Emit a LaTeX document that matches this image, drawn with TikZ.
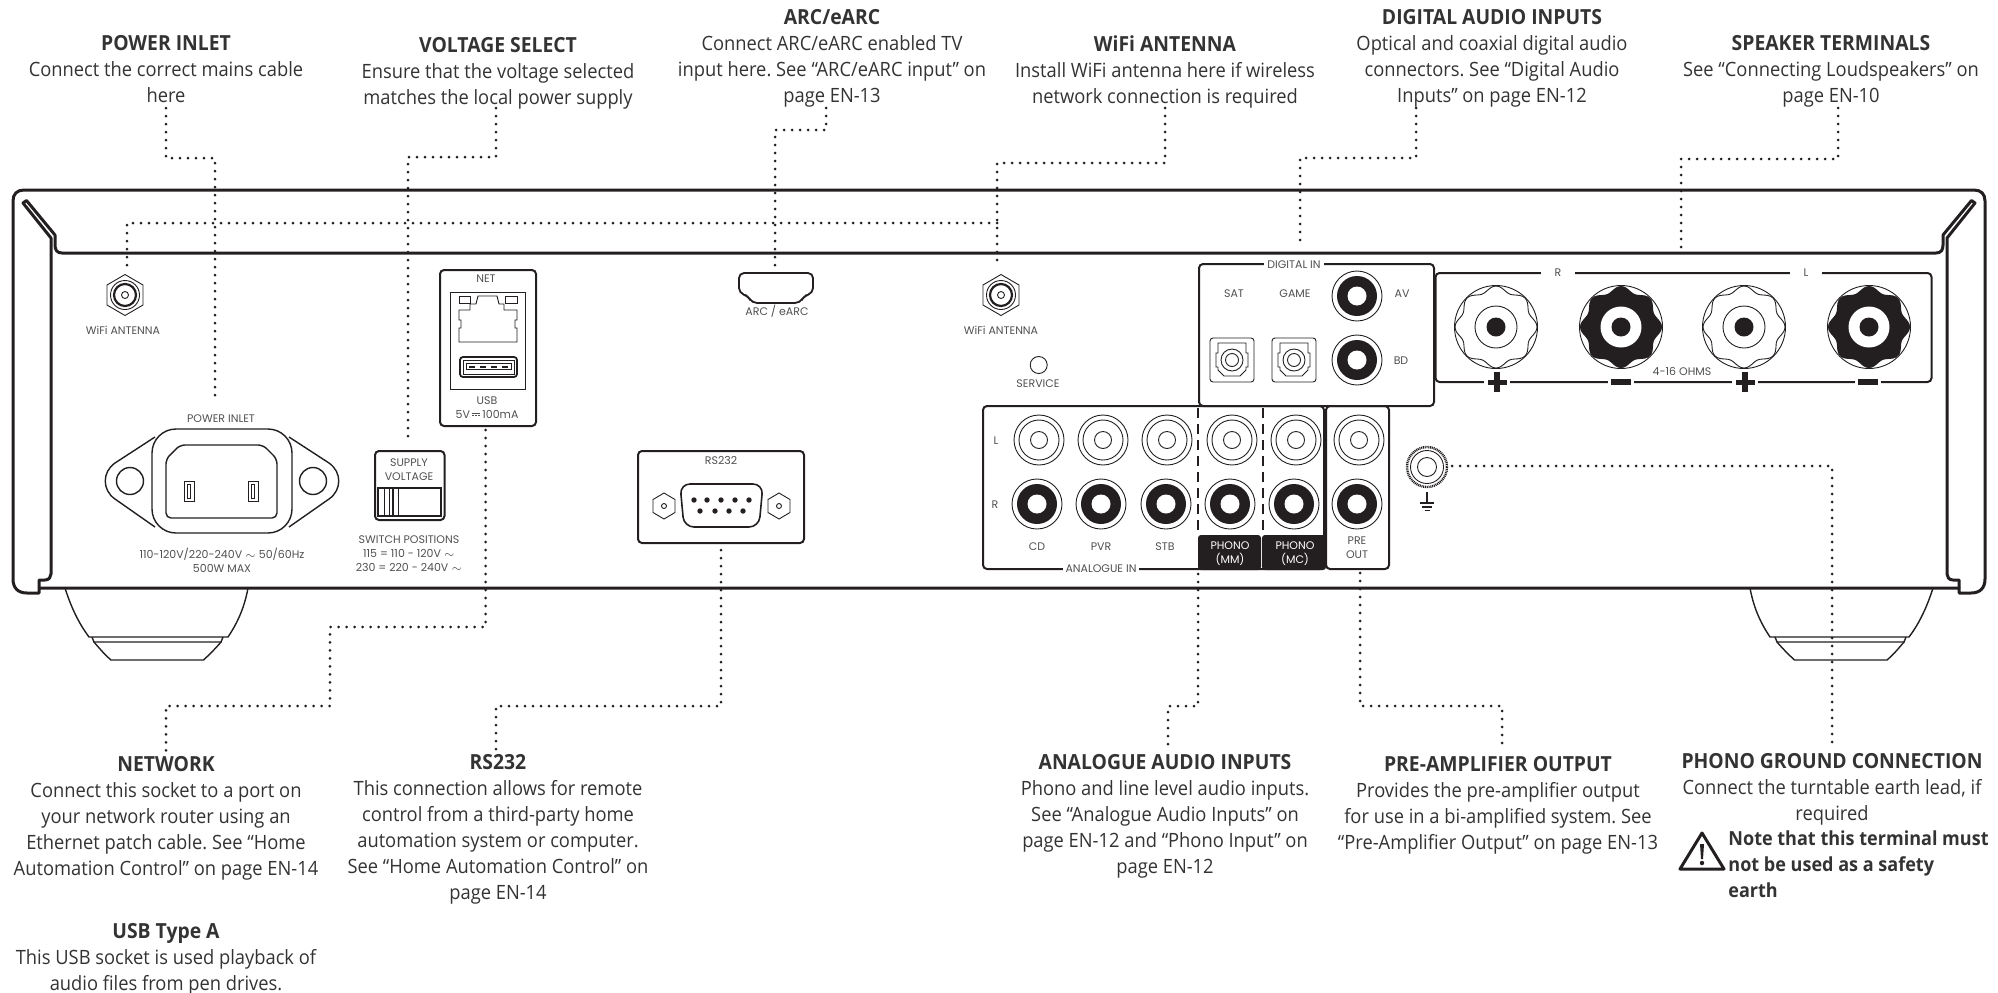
\documentclass[tikz,border=0pt]{standalone}
\usepackage{fontspec}
\setmainfont[FakeStretch=0.93]{Open Sans}
\newfontfamily\plfont{Poppins}
\definecolor{ink}{HTML}{231F20}
\definecolor{plab}{HTML}{505050}
\definecolor{bodyc}{HTML}{333333}
\newcommand\ttl[1]{{\fontsize{10.4}{13}\selectfont\textbf{#1}}}
\newcommand\dcsym{\kern1pt\rlap{\raisebox{2.7pt}{\rule{4.2pt}{.35pt}}}\raisebox{1.5pt}{\rule{1.1pt}{.35pt}\kern.45pt\rule{1.1pt}{.35pt}\kern.45pt\rule{1.1pt}{.35pt}}\kern1pt}
\tikzset{
  chassis/.style={draw=ink,line width=1.5pt,line join=round},
  panel/.style={draw=ink,line width=1pt,rounded corners=2pt},
  fine/.style={draw=ink,line width=0.45pt},
  dots/.style={draw=ink,line width=1.5pt,line cap=round,dash pattern=on 0pt off 4pt},
  block/.style={font=\frenchspacing\fontsize{9.85}{13}\selectfont,align=center,inner sep=0pt,anchor=north,text=bodyc},
  plabel/.style={font=\plfont\fontsize{5.5}{7}\selectfont,text=plab,inner sep=0pt,align=center},
  bgl/.style={plabel,fill=white,inner xsep=1.5pt,inner ysep=1pt},
}
\newcommand\wifi[2]{%
  \draw[fine] (#1,#2-20.5)--(#1+18,#2-10)--(#1+18,#2+10)--(#1,#2+20.5)--(#1-18,#2+10)--(#1-18,#2-10)--cycle;
  \draw[fine] (#1,#2) circle[radius=14.5];
  \draw[draw=ink,line width=1.1pt] (#1,#2) circle[radius=11];
  \draw[fine] (#1,#2) circle[radius=3.5];}
\newcommand\rcawhite[2]{%
  \draw[fine] (#1,#2) circle[radius=25];
  \draw[fine] (#1,#2) circle[radius=20];
  \draw[fine] (#1,#2) circle[radius=8.5];}
\newcommand\rcablack[2]{%
  \draw[fine] (#1,#2) circle[radius=25];
  \fill[ink] (#1,#2) circle[radius=20];
  \fill[white] (#1,#2) circle[radius=9.5];}
\newcommand\optical[2]{%
  \draw[fine,rounded corners=1.5pt] (#1-22,#2-22) rectangle (#1+22,#2+22);
  \draw[fine] (#1-14,#2-17)--(#1+14,#2-17)--(#1+14,#2-7)--(#1+16,#2-7)--(#1+16,#2+7)--(#1+14,#2+7)--(#1+14,#2+10)--(#1+8,#2+16)--(#1-8,#2+16)--(#1-14,#2+10)--(#1-14,#2+7)--(#1-16,#2+7)--(#1-16,#2-7)--(#1-14,#2-7)--cycle;
  \draw[fine] (#1,#2) circle[radius=11];
  \draw[fine] (#1,#2) circle[radius=6.5];}
\newcommand\lobes[3]{%
  \path[#3] plot[smooth cycle,samples=96,domain=0:356.25] ({#1+41*(0.935+0.065*cos(8*\x))*cos(\x)},{#2+41*(0.935+0.065*cos(8*\x))*sin(\x)});}
\newcommand\termpos[2]{%
  \draw[fine] (#1,#2) circle[radius=41.5];
  \lobes{#1}{#2}{fine,draw}
  \draw[fine] (#1,#2) circle[radius=21];
  \fill[ink] (#1,#2) circle[radius=9.5];}
\newcommand\termneg[2]{%
  \draw[fine] (#1,#2) circle[radius=41.5];
  \lobes{#1}{#2}{fill=ink}
  \fill[white] (#1,#2) circle[radius=20.5];
  \fill[ink] (#1,#2) circle[radius=9.5];}
\newcommand\screw[2]{%
  \draw[fine] (#1,#2-13)--(#1+11,#2-6.5)--(#1+11,#2+6.5)--(#1,#2+13)--(#1-11,#2+6.5)--(#1-11,#2-6.5)--cycle;
  \draw[fine] (#1,#2) circle[radius=2.5];}
\newcommand\sidepart{%
  \draw[chassis] (999,190)--(24,190) .. controls (17,190) and (13,194) .. (13,201)--(13,579) .. controls (13,588) and (18,593) .. (27,593)--(39,593)--(39,588)--(999,588);
  \draw[chassis] (39,588)--(39,580)--(45,580) .. controls (49,580) and (51,577) .. (51,574)--(51,238)--(23,203)--(26.5,200.5)--(55,235)--(55,245) .. controls (55,250) and (57,253) .. (62,253)--(999,253);
  \draw[ink,line width=0.7pt] (65,588) .. controls (72,610) and (80,625) .. (89,637)--(228,637) .. controls (236,625) and (244,610) .. (248,588);
  \draw[ink,line width=0.7pt] (92,637)--(94,642)--(221,642)--(223,637);
  \draw[ink,line width=0.7pt] (94,642) .. controls (100,649) and (105,655) .. (111,660)--(203.5,660) .. controls (209,655) and (215,649) .. (221,642);}
\begin{document}
\begin{tikzpicture}[x=0.5pt,y=-0.5pt]
\useasboundingbox (0,0) rectangle (1998,992);
% chassis
\sidepart
\begin{scope}[shift={(1998,0)},xscale=-1]\sidepart\end{scope}
% WiFi
\wifi{125}{295}\wifi{1001}{295}
\node[plabel] (lw1) at (123,330) {WiFi ANTENNA};
\node[plabel] (lw2) at (1001,330) {WiFi ANTENNA};
% power inlet
\node[plabel] (lpi) at (221,419) {POWER INLET};
\draw[draw=ink,line width=0.7pt] (155,437)--(115,463) .. controls (102,472) and (102,490) .. (115,499)--(155,527);
\draw[draw=ink,line width=0.7pt] (289,437)--(329,463) .. controls (342,472) and (342,490) .. (329,499)--(289,527);
\draw[draw=ink,line width=0.7pt,rounded corners=12pt] (152,429) rectangle (292,533);
\draw[draw=ink,line width=0.7pt] (130,481) circle[radius=13.5] (313,481) circle[radius=13.5];
\draw[draw=ink,line width=0.7pt,rounded corners=2.5pt] (180,445)--(263,445)--(277,459)--(277,518)--(166,518)--(166,459)--cycle;
\foreach \x in {189,253}{\draw[fine] (\x-5,481)rectangle(\x+5,501);\draw[fine] (\x-1.5,484)rectangle(\x+1.5,498);}
\node[plabel] (lpv) at (222,560) {110-120V/220-240V $\sim$ 50/60Hz\\500W MAX};
% supply voltage
\draw[panel] (375,451) rectangle (444.5,520);
\node[plabel] (lsv) at (409,470) {SUPPLY\\VOLTAGE};
\draw[fine,line width=.6pt] (378,488) rectangle (441,516);
\foreach \x in {384,389,398}{\draw[fine] (\x,488)--(\x,516);}
\draw[draw=ink,line width=1pt] (393,488)--(393,516);
\node[plabel] (lsw) at (409,553.5) {SWITCH POSITIONS\\115 = 110 - 120V $\sim$\\230 = 220 - 240V $\sim$};
% net box
\draw[panel] (440,270) rectangle (536,426);
\node[plabel] (lnet) at (486,279) {NET};
\draw[fine] (450,292) rectangle (525,389);
\draw[fine] (459,342)--(459,328)--(461,328)--(461,320)--(459,320)--(459,310)--(470,310)--(470,304)--(476,304)--(478,296)--(497,296)--(499,304)--(504,304)--(504,310)--(517,310)--(517,320)--(515,320)--(515,328)--(517,328)--(517,342)--cycle;
\draw[fine] (459,296) rectangle (470,303) (505,296) rectangle (517,303);
\draw[draw=ink,line width=.9pt,rounded corners=1.5pt] (460,357) rectangle (517,377);
\draw[fine] (463,360) rectangle (514,374);
\draw[fine] (466,363) rectangle (511,369);
\draw[draw=ink,line width=1pt,dash pattern=on 3pt off 2.5pt] (469,367)--(509,367);
\node[plabel] (lusb) at (487,408) {USB\\5V\dcsym100mA};
% HDMI
\draw[draw=ink,line width=.9pt,rounded corners=2.5pt] (739,273)--(813,273)--(813,293)--(804,296)--(800,303)--(752,303)--(748,296)--(739,293)--cycle;
\node[plabel] (larc) at (777,311) {ARC / eARC};
% service
\draw[fine] (1038.7,365) circle[radius=8.5];
\node[plabel] (lsrv) at (1038,384) {SERVICE};
% rs232
\draw[panel] (638,451) rectangle (804,543);
\node[plabel] (lrs) at (721,460) {RS232};
\draw[draw=ink,line width=.8pt,rounded corners=5pt] (680,484)--(763,484)--(759,527)--(684,527)--cycle;
\foreach \x in {694,707,721,735,749}{\fill[ink] (\x,500) circle[radius=2.7];}
\foreach \x in {700,715,729,743}{\fill[ink] (\x,511) circle[radius=2.7];}
\screw{664}{506}\screw{779}{506}
% analogue
\draw[panel] (983,406) rectangle (1324,569);
\draw[panel] (1199,264) rectangle (1434,406);
\draw[panel] (1326,406) rectangle (1389,569);
\draw[panel] (1435.5,273) rectangle (1931.5,382);
\draw[draw=ink,line width=1pt,dash pattern=on 5pt off 3pt] (1198,408)--(1198,535) (1263,408)--(1263,535);
\fill[ink,rounded corners=1.5pt] (1198,535) rectangle (1261,570) (1262,535) rectangle (1326,570);
\foreach \x in {1039,1103,1167,1232,1296,1359}{\rcawhite{\x}{440}}
\foreach \x in {1037,1101,1166,1230,1294,1357}{\rcablack{\x}{504}}
\rcablack{1357}{296}\rcablack{1357}{360}
\optical{1232}{360}\optical{1294}{360}
\node[bgl] (lai) at (1101,569) {ANALOGUE IN};
\node[bgl] (ldi) at (1294,264.5) {DIGITAL IN};
\node[plabel] (ll) at (996,441) {L};
\node[plabel] (lr) at (995,505) {R};
\node[plabel] (lcd) at (1037,547) {CD};
\node[plabel] (lpvr) at (1101,547) {PVR};
\node[plabel] (lstb) at (1165,547) {STB};
\node[plabel,text=white] (lmm) at (1230,554) {PHONO\\(MM)};
\node[plabel,text=white] (lmc) at (1295,554) {PHONO\\(MC)};
\node[plabel] (lpre) at (1357,548) {PRE\\OUT};
\node[plabel] (lsat) at (1234,294) {SAT};
\node[plabel] (lgame) at (1295,294) {GAME};
\node[plabel] (lav) at (1402,294) {AV};
\node[plabel] (lbd) at (1401,361) {BD};
% speakers
\termpos{1496}{327}\termneg{1621}{327}\termpos{1744}{327}\termneg{1869}{327}
\node[bgl,inner xsep=7pt] (lsr) at (1558,273) {R};
\node[bgl,inner xsep=7pt] (lsl) at (1806,273) {L};
\foreach \x in {1497,1745}{%
  \fill[white] (\x-13,378) rectangle (\x+13,386);
  \fill[ink] (\x-9.5,379.5) rectangle (\x+9.5,384.5);
  \fill[ink] (\x-3,372) rectangle (\x+3,392);}
\foreach \x in {1621,1868}{%
  \fill[white] (\x-13,378) rectangle (\x+13,386);
  \fill[ink] (\x-10,379) rectangle (\x+10,385);}
\node[plabel] (loh) at (1682,371) {4-16 OHMS};
% ground
\draw[draw=ink,line width=1.2pt,dash pattern=on .5pt off .4pt] (1427,467) circle[radius=20];
\draw[fine] (1427,467) circle[radius=16.5] (1427,467) circle[radius=9.5];
\draw[fine,line width=.6pt] (1427,492)--(1427,503) (1420,503)--(1434,503) (1422,507)--(1432,507) (1424.5,510.5)--(1429.5,510.5);
% texts
\node[block] (tpow) at (166,35.5) {\ttl{POWER INLET}\\Connect the correct mains cable\\here};
\node[block] (tvol) at (498,37.5) {\ttl{VOLTAGE SELECT}\\Ensure that the voltage selected\\matches the local power supply};
\node[block] (tarc) at (832,9) {\ttl{ARC/eARC}\\Connect ARC/eARC enabled TV\\input here. See “ARC/eARC input” on\\page EN-13};
\node[block] (twifi) at (1165,35) {\ttl{WiFi ANTENNA}\\Install WiFi antenna here if wireless\\network connection is required};
\node[block] (tdig) at (1492,9) {\ttl{DIGITAL AUDIO INPUTS}\\Optical and coaxial digital audio\\connectors. See “Digital Audio\\Inputs” on page EN-12};
\node[block] (tspk) at (1831,35) {\ttl{SPEAKER TERMINALS}\\See “Connecting Loudspeakers” on\\page EN-10};
\node[block] (tnet) at (166,756) {\ttl{NETWORK}\\Connect this socket to a port on\\your network router using an\\Ethernet patch cable. See “Home\\Automation Control” on page EN-14};
\node[block] (tusb) at (166,923) {\ttl{USB Type A}\\This USB socket is used playback of\\audio files from pen drives.};
\node[block] (trs) at (498,754) {\ttl{RS232}\\This connection allows for remote\\control from a third-party home\\automation system or computer.\\See “Home Automation Control” on\\page EN-14};
\node[block] (tana) at (1165,754) {\ttl{ANALOGUE AUDIO INPUTS}\\Phono and line level audio inputs.\\See “Analogue Audio Inputs” on\\page EN-12 and “Phono Input” on\\page EN-12};
\node[block] (tpre) at (1498,756) {\ttl{PRE-AMPLIFIER OUTPUT}\\Provides the pre-amplifier output\\for use in a bi-amplified system. See\\“Pre-Amplifier Output” on page EN-13};
\node[block] (tgnd) at (1832,753) {\ttl{PHONO GROUND CONNECTION}\\Connect the turntable earth lead, if\\required};
\node[block,anchor=north west,align=left,font=\frenchspacing\fontsize{9.7}{13}\selectfont\bfseries] (tnote) at (1728,830) {Note that this terminal must\\not be used as a safety\\earth};
% warning triangle
\draw[draw=ink,line width=1.5pt,line join=round] (1702,833)--(1724,869)--(1680,869)--cycle;
\fill[ink] (1700,844)--(1704,844)--(1703,859)--(1701,859)--cycle;
\fill[ink] (1702,863) circle[radius=2.2];
% connectors
\coordinate (pA) at (166,108); \coordinate (pB) at (215,401);
\draw[dots] (pA)--++(0,50)-|(pB);
\coordinate (vA) at (496,108); \coordinate (vB) at (408,438);
\draw[dots] (vA)--++(0,49)-|(vB);
\coordinate (aA) at (826,108); \coordinate (aB) at (775,266);
\draw[dots] (aA)--++(0,22)-|(aB);
\coordinate (wA) at (1165,108); \coordinate (wB) at (997,266); \coordinate (wJ) at (997,223); \coordinate (wC) at (127,270);
\draw[dots] (wA)--++(0,55)-|(wB);
\draw[dots] (wJ)-|(wC);
\coordinate (dA) at (1416,108); \coordinate (dB) at (1300,247);
\draw[dots] (dA)--++(0,50)-|(dB);
\coordinate (sA) at (1838,108); \coordinate (sB) at (1681,249);
\draw[dots] (sA)--++(0,51)-|(sB);
\coordinate (nA) at (485.7,430); \coordinate (nB) at (166,751);
\draw[dots] (nA)--(485.7,627)-|(330,706)-|(nB);
\coordinate (rA) at (721,550); \coordinate (rB) at (496,750);
\draw[dots] (rA)--(721,706)-|(rB);
\coordinate (anA) at (1198,574); \coordinate (anB) at (1168,745);
\draw[dots] (anA)--(1198,706)-|(anB);
\coordinate (prA) at (1360,573); \coordinate (prB) at (1502,747);
\draw[dots] (prA)--(1360,706)-|(prB);
\coordinate (gA) at (1452,466); \coordinate (gB) at (1832,749);
\draw[dots] (gA)-|(gB);
\end{tikzpicture}
\end{document}
